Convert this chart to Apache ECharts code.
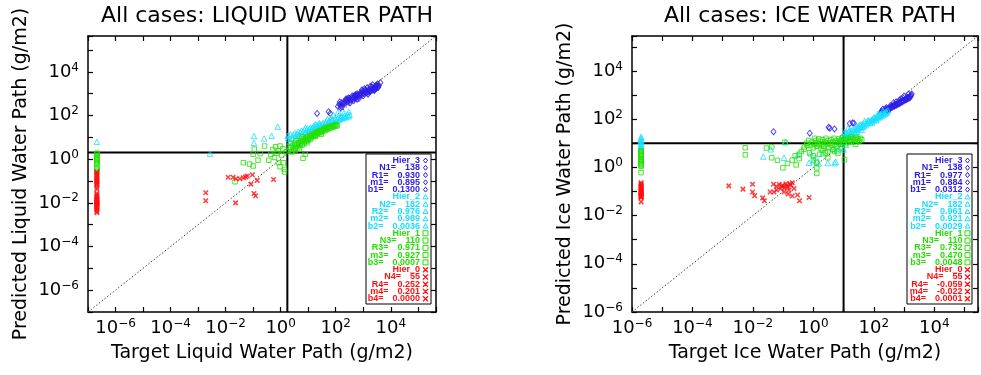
<!DOCTYPE html>
<html>
<head>
<meta charset="utf-8">
<script src="https://cdn.jsdelivr.net/npm/echarts@6/dist/echarts.min.js"></script>
<style>
  html, body { margin: 0; background: #fff; }
  #chart { width: 981px; height: 375px; }
</style>
</head>
<body>
<div id="chart"></div>
<script>
// colours / names, order Hier_3 .. Hier_0
const hierNames = ['Hier_3', 'Hier_2', 'Hier_1', 'Hier_0']
const hierColors = ['#2b1be6', '#16e0ff', '#22e000', '#ff1010']

// ---------- liquid water path ----------
const lwpRange = [1e-7, 4.4e5]
const lwpThreshX = 1.75
const lwpThreshY = 2.0
const lwpZeroX = 2.1e-7
const lwpN = [138, 182, 110, 55]
const lwpR = [0.930, 0.976, 0.971, 0.252]
const lwpM = [0.895, 0.989, 0.927, 0.201]
const lwpB = [0.1300, 0.0036, 0.0007, 0.0000]

const lwpHier3 = [
  [21, 125], [55, 150], [63, 125],
  [120, 260], [135, 330], [150, 290], [165, 380], [180, 330], [200, 420], [215, 360], [235, 470],
  [255, 410], [275, 520], [300, 460], [325, 580], [350, 500], [380, 640], [410, 560], [445, 700],
  [480, 610], [520, 780], [560, 680], [610, 860], [660, 750], [710, 950], [770, 820], [840, 1050],
  [910, 900], [990, 1150], [1070, 990], [1160, 1260], [1260, 1080], [1370, 1380], [1480, 1180],
  [1610, 1500], [1750, 1300], [1900, 1650], [2060, 1420], [2240, 1800], [2430, 1560], [2640, 1950],
  [2870, 1700], [3120, 2150], [3390, 1900], [3700, 2400], [4200, 3200], [3000, 2500], [2000, 2100],
  [1200, 1500], [800, 1100], [500, 850], [300, 650], [700, 600], [1500, 950], [2500, 1400],
  [450, 480], [230, 560], [950, 1300],
  [140, 420], [170, 250], [260, 600], [330, 380], [520, 900], [600, 560], [900, 1500], [1000, 800],
  [1400, 1900], [1700, 1200], [2200, 2600], [2600, 1500], [3300, 2800], [3500, 2000], [150, 230],
  [400, 800], [1800, 2200], [2800, 2300], [600, 1000], [1100, 1700]
]
const lwpHier2Zero = [6.3]
const lwpHier2 = [
  [2.7e-3, 1.8], [0.107, 11.5], [0.107, 5.6], [0.25, 8.9], [0.47, 11.7], [0.78, 31], [1.8, 11.7],
  [6.3, 4.9], [1.9, 8.9], [2.2, 6.3],
  [2.0, 11], [2.3, 14], [2.6, 9.5], [2.9, 13], [3.2, 16], [3.5, 11.5], [3.9, 14.5], [4.3, 18],
  [4.7, 13], [5.1, 17], [5.6, 20], [6.1, 15], [6.7, 19], [7.3, 23], [8.0, 17.5], [8.7, 22],
  [9.5, 26], [10.4, 20], [11.3, 25], [12.3, 29], [13.4, 23], [14.6, 28], [16, 33], [17.4, 26],
  [19, 31], [20.7, 37], [22.6, 29], [24.6, 35], [26.8, 41], [29.2, 33], [31.8, 39], [34.7, 46],
  [37.8, 37], [41.2, 44], [44.9, 52], [49, 41], [53, 49], [58, 58], [63, 47], [69, 55], [75, 64],
  [82, 52], [89, 61], [97, 72], [106, 58], [115, 68], [126, 80], [137, 65], [149, 76], [163, 90],
  [177, 73], [193, 85], [210, 100], [229, 82], [250, 95], [272, 112], [296, 92], [320, 108],
  [12, 16], [40, 30], [90, 48], [150, 95], [70, 80],
  [4, 9], [8, 28], [15, 20], [25, 45], [50, 70], [80, 110], [120, 140], [200, 130], [300, 150],
  [60, 40], [35, 30], [18, 40], [9, 14]
]
const lwpHier1Zero = [1.9, 1.7, 1.5, 1.3, 1.15, 1.0, 0.9, 0.8, 0.7, 0.63, 0.42, 0.37, 0.32, 0.28]
const lwpHier1 = [
  [0.022, 0.093], [0.044, 0.69], [0.074, 0.6], [0.10, 0.49], [0.11, 2.9], [0.10, 1.7], [0.15, 0.9],
  [0.18, 1.8], [0.26, 4.0], [0.37, 0.89], [0.44, 1.66], [0.52, 2.8], [0.6, 1.2], [0.65, 3.7],
  [0.83, 0.69], [0.95, 4.0], [1.1, 1.55], [0.95, 0.45], [1.35, 0.34], [1.38, 0.26], [1.26, 0.69],
  [1.58, 2.2], [2.6, 2.2], [3.4, 3.2], [4.5, 5.4], [6.5, 1.1], [7.8, 1.7], [0.8, 2.4], [1.2, 3.0],
  [0.7, 1.9],
  [2.0, 2.6], [2.2, 3.4], [2.5, 2.2], [2.7, 4.2], [3.0, 3.0], [3.2, 5.0], [3.4, 2.5], [3.7, 3.9],
  [4.0, 4.8], [4.2, 3.3], [4.6, 6.0], [5.0, 4.2], [5.3, 5.3], [5.6, 7.2], [6.0, 4.6], [6.3, 6.5],
  [6.8, 8.4], [7.2, 5.8], [7.6, 7.5], [8.0, 9.5], [8.5, 6.6], [9.0, 8.2], [9.6, 10.5], [10, 7.4],
  [11, 9.2], [11.5, 12], [12, 8.3], [13, 10.5], [14, 13.5], [15, 11], [16, 14], [17, 12], [18, 16],
  [19, 13], [20, 17.5], [22, 14.5], [23, 19], [25, 16], [27, 20], [29, 17], [31, 22], [33, 19],
  [36, 24], [38, 20], [41, 26], [44, 22], [47, 28], [50, 24], [55, 30], [60, 26], [65, 32], [70, 28],
  [76, 34], [82, 30], [90, 36], [98, 32], [105, 38], [112, 34], [4.8, 2.9], [9.0, 5.6], [3.6, 7.0],
  [2.4, 5.2], [6.0, 10.5], [18, 11], [30, 14]
]
const lwpHier0Zero = [
  0.26, 0.23, 0.2, 0.18, 0.16, 0.14, 0.125, 0.11, 0.1, 0.09, 0.08, 0.072, 0.065, 0.05, 0.042,
  0.027, 0.024, 0.021, 0.019, 0.017, 0.015, 0.014, 0.013, 0.012, 0.011, 0.0105, 0.01, 0.0095,
  0.009, 0.0085, 0.008, 0.0075, 0.007, 0.0065, 0.006, 0.0053, 0.0047, 0.004, 0.0035
]
const lwpHier0 = [
  [1.9e-3, 0.029], [1.9e-3, 0.0125], [0.0123, 0.15], [0.0186, 0.15], [0.023, 0.010], [0.024, 0.128],
  [0.033, 0.126], [0.044, 0.14], [0.053, 0.155], [0.062, 0.17], [0.094, 0.195], [0.083, 0.072],
  [0.14, 0.107], [0.107, 0.027], [0.123, 0.021], [0.55, 0.117]
]

// ---------- ice water path ----------
const iwpRange = [1e-6, 2.8e5]
const iwpThreshX = 10
const iwpThreshY = 10
const iwpZeroX = 2e-6
const iwpN = [138, 182, 110, 55]
const iwpR = [0.977, 0.961, 0.732, -0.059]
const iwpM = [0.884, 0.921, 0.470, -0.022]
const iwpB = [0.0312, 0.0029, 0.0048, 0.0001]

const iwpHier3 = [
  [0.048, 30], [0.76, 26], [3.2, 46], [5.0, 39], [3.5, 42], [16, 66], [20, 70], [22, 68], [174, 204],
  [170, 180], [185, 205], [200, 190], [215, 225], [230, 210], [250, 245], [270, 230], [290, 270],
  [310, 255], [335, 300], [360, 280], [385, 330], [415, 310], [445, 365], [480, 345], [515, 400],
  [555, 380], [595, 440], [640, 420], [690, 485], [740, 460], [800, 535], [860, 505], [920, 585],
  [990, 560], [1070, 645], [1150, 615], [1240, 710], [1330, 680], [1430, 780], [1540, 750],
  [1650, 860], [1600, 900], [1100, 700], [700, 450], [400, 350], [250, 260], [500, 370], [900, 620],
  [1300, 800],
  [200, 260], [300, 220], [450, 480], [600, 400], [1000, 900], [1200, 700], [1400, 1100], [700, 620],
  [350, 360], [1800, 1100], [260, 300], [550, 520], [800, 700], [1700, 1000]
]
const iwpHier2Zero = [18.6, 16, 14, 12.5, 11, 9.5, 8.3, 7.2, 6.2, 5.2]
const iwpHier2 = [
  [0.022, 2.8], [0.107, 2.5], [0.12, 11], [0.039, 5.6], [0.72, 1.55], [1.0, 1.8], [1.5, 1.45],
  [2.0, 3.8], [0.81, 3.8], [5.0, 1.5], [5.5, 1.7], [0.3, 3.3], [3, 1.5], [1.2, 2.6], [4.4, 6],
  [6, 5], [8, 7], [12, 8.5], [10, 5.5], [7, 11],
  [8, 15], [9, 20], [10, 17], [11, 24], [12, 19], [13, 27], [14, 22], [15, 31], [16, 25], [18, 34],
  [19, 28], [21, 38], [22, 31], [24, 42], [26, 35], [28, 47], [30, 39], [32, 52], [35, 43], [38, 57],
  [41, 48], [44, 63], [48, 54], [52, 69], [56, 60], [60, 76], [65, 67], [70, 84], [76, 74], [82, 93],
  [88, 82], [95, 103], [102, 91], [110, 114], [118, 100], [127, 125], [136, 111], [146, 138],
  [157, 123], [168, 152], [180, 136], [193, 168], [207, 150], [222, 186], [238, 166], [255, 205],
  [272, 185], [290, 230], [20, 24], [30, 45], [45, 50], [65, 90], [100, 120], [150, 160], [12, 14],
  [18, 22], [25, 30], [40, 36], [130, 140], [200, 220], [14, 42],
  [16, 36], [28, 30], [50, 85], [85, 70], [140, 170], [120, 90], [35, 60], [11, 30]
]
const iwpHier1Zero = [4.9, 4.5, 4.0, 3.6, 3.2, 2.9, 2.6, 2.3, 2.1, 1.9, 1.7, 1.5, 1.35, 1.2, 1.1, 0.6]
const iwpHier1 = [
  [5.6e-3, 6.5], [5.6e-3, 3.3], [0.028, 6.3], [0.042, 7.1], [0.042, 2.5], [0.065, 1.95], [0.098, 0.95],
  [0.115, 11], [0.14, 1.45], [0.27, 1.26], [0.34, 2.3], [0.34, 3.5], [0.49, 5.6], [0.63, 8.3],
  [0.98, 3.0], [1.3, 0.95], [1.3, 0.56], [1.3, 1.6], [2.2, 7.6], [0.2, 2.0], [0.4, 4.5], [0.75, 4.0],
  [0.25, 3.0], [1.0, 2.0], [1.6, 3.5], [2.5, 4.0], [3.0, 2.5], [10.7, 2.1], [6.5, 3.8], [5, 4.5],
  [0.8, 8], [0.9, 11], [1.0, 6.5], [1.1, 9], [1.2, 13], [1.3, 7.5], [1.4, 10], [1.5, 15], [1.6, 8.5],
  [1.7, 12], [1.8, 6], [1.9, 9.5], [2.0, 14], [2.2, 7.5], [2.4, 11], [2.6, 16], [2.8, 9], [3.0, 12.5],
  [3.2, 6.5], [3.5, 10], [3.8, 14], [4.1, 8], [4.4, 11.5], [4.8, 16], [5.2, 9], [5.6, 13], [6.0, 7.2],
  [6.5, 10.5], [7.0, 15], [7.5, 12], [8.0, 9], [8.6, 13.5], [9.2, 17], [10, 11], [11, 14], [12, 9.5],
  [13, 12.5], [14, 16], [15, 11], [16, 13.5], [17, 18], [18, 12], [20, 15], [22, 11.5], [24, 14],
  [26, 17], [28, 13], [30, 15.5], [33, 12], [36, 16], [40, 14], [2.0, 5], [3.0, 4.5], [0.6, 10],
  [0.7, 13], [1.1, 16], [4.5, 5.5], [9, 6], [25, 9], [0.5, 7]
]
const iwpHier0Zero = [
  0.23, 0.21, 0.19, 0.175, 0.16, 0.15, 0.14, 0.13, 0.12, 0.113, 0.106, 0.1, 0.094, 0.088, 0.083,
  0.078, 0.074, 0.07, 0.066, 0.063, 0.06, 0.058, 0.056, 0.037
]
const iwpHier0 = [
  [1.6e-3, 0.17], [4.7e-3, 0.125], [9.7e-3, 0.2], [9.7e-3, 0.095], [0.0114, 0.066], [0.021, 0.054],
  [0.024, 0.041], [0.037, 0.095], [0.048, 0.2], [0.05, 0.095], [0.061, 0.114], [0.074, 0.2],
  [0.083, 0.133], [0.095, 0.18], [0.107, 0.095], [0.123, 0.21], [0.138, 0.155], [0.157, 0.114],
  [0.178, 0.18], [0.2, 0.23], [0.23, 0.133], [0.145, 0.078], [0.2, 0.065], [0.3, 0.071],
  [0.35, 0.041], [0.72, 0.056], [0.09, 0.16], [0.11, 0.14], [0.17, 0.21], [0.06, 0.16], [0.13, 0.18]
]

const FONT = 'DejaVu Sans'
const symbols = ['diamond', 'triangle', 'rect', 'path://M0,0L10,10M10,0L0,10']
const symbolSizes = [[5, 6], 5.5, 4.5, 4.5]

const grids = [
  {left: 88, top: 36, width: 348, height: 276},
  {left: 632, top: 36, width: 347, height: 276}
]

// label only the even decades (10^-6, 10^-4 ...), nothing at the odd axis ends
function tickLabel(v) {
  const lg = Math.log10(v)
  const e = Math.round(lg)
  if (Math.abs(lg - e) > 0.01 || e % 2 !== 0) return ''
  return '{b|10}{s|' + (e < 0 ? '\u2212' + (-e) : e) + '}'
}
const tickRich = {
  b: {fontFamily: FONT, fontSize: 18, color: '#000', lineHeight: 21},
  s: {fontFamily: FONT, fontSize: 12, color: '#000', lineHeight: 12, verticalAlign: 'top'}
}

function makeAxes(range, name, isX, gi) {
  const base = {
    type: 'log', logBase: 10, min: range[0], max: range[1], interval: 1, gridIndex: gi,
    axisLine: {show: true, onZero: false, lineStyle: {color: '#000', width: 1.5}},
    axisTick: {show: true, inside: true, length: 5, lineStyle: {color: '#000', width: 1.2}},
    splitLine: {show: false}, minorTick: {show: false}
  }
  const main = Object.assign({}, base, {
    position: isX ? 'bottom' : 'left',
    name: name, nameLocation: 'middle', nameGap: isX ? 32 : 57,
    nameTextStyle: {fontFamily: FONT, fontSize: 19, color: '#000'},
    axisLabel: {show: true, margin: isX ? 6 : 9, formatter: tickLabel, rich: tickRich,
      showMinLabel: true, showMaxLabel: true}
  })
  const mirror = Object.assign({}, base, {
    position: isX ? 'top' : 'right', axisLabel: {show: false}
  })
  return [main, mirror]
}

function panelSeries(gi, range, zeroX, thrX, thrY, sets, zeros) {
  const ax = {xAxisIndex: gi * 2, yAxisIndex: gi * 2}
  const out = []
  // 1:1 line
  out.push(Object.assign({type: 'line', data: [[range[0], range[0]], [range[1], range[1]]],
    symbol: 'none', silent: true, z: 1,
    lineStyle: {color: '#444', width: 1, type: [1.5, 2]}}, ax))
  // threshold lines
  out.push(Object.assign({type: 'line', data: [[thrX, range[0]], [thrX, range[1]]],
    symbol: 'none', silent: true, z: 2, lineStyle: {color: '#000', width: 2}}, ax))
  out.push(Object.assign({type: 'line', data: [[range[0], thrY], [range[1], thrY]],
    symbol: 'none', silent: true, z: 2, lineStyle: {color: '#000', width: 2}}, ax))
  for (let k = 0; k < 4; k++) {
    const data = zeros[k].map(y => [zeroX, y]).concat(sets[k])
    out.push(Object.assign({
      type: 'scatter', name: hierNames[k], data: data, symbol: symbols[k], symbolSize: symbolSizes[k],
      silent: true, z: 3 + k,
      itemStyle: {color: 'rgba(0,0,0,0)', borderColor: hierColors[k], borderWidth: k === 3 ? 1.5 : 1}
    }, ax))
  }
  return out
}

function legendSymbol(k, cx, cy, color) {
  const st = {fill: 'none', stroke: color, lineWidth: 1}
  if (k === 0) return {type: 'polygon', z: 12, shape: {points: [[cx, cy - 2.5], [cx + 2, cy], [cx, cy + 2.5], [cx - 2, cy]]}, style: st}
  if (k === 1) return {type: 'polygon', z: 12, shape: {points: [[cx, cy - 2.5], [cx + 2.5, cy + 2], [cx - 2.5, cy + 2]]}, style: st}
  if (k === 2) return {type: 'rect', z: 12, shape: {x: cx - 2.5, y: cy - 2.5, width: 5, height: 5}, style: st}
  return {type: 'polyline', z: 12, shape: {points: [[cx - 2.5, cy - 2.5], [cx + 2.5, cy + 2.5], [cx, cy], [cx + 2.5, cy - 2.5], [cx - 2.5, cy + 2.5]]}, style: {fill: 'none', stroke: color, lineWidth: 1.3}}
}

function legendGraphics(box, textRight, symX, N, R, M, B) {
  const els = [{type: 'rect', z: 10, shape: {x: box[0], y: box[1], width: box[2], height: box[3]},
    style: {fill: '#fff', stroke: '#000', lineWidth: 1}}]
  const rowY0 = 160.5
  const rowStep = 7.28
  const fs = 9
  let row = 0
  for (let k = 0; k < 4; k++) {
    const i = k + 1
    const lines = [
      ['', hierNames[k]],
      ['N' + i + '=', String(N[k])],
      ['R' + i + '=', R[k].toFixed(3)],
      ['m' + i + '=', M[k].toFixed(3)],
      ['b' + i + '=', B[k].toFixed(4)]
    ]
    lines.forEach(function (ln) {
      const y = rowY0 + row * rowStep
      els.push({type: 'text', z: 11, x: textRight, y: y, style: {
        text: ln[0] ? '{k|' + ln[0] + '}{v|' + ln[1] + '}' : '{v|' + ln[1] + '}',
        align: 'right', verticalAlign: 'middle', fill: hierColors[k],
        fontFamily: 'Liberation Sans', fontWeight: 'bold', fontSize: fs,
        rich: {
          k: {fontFamily: 'Liberation Sans', fontWeight: 'bold', fontSize: fs, fill: hierColors[k], padding: [0, 9, 0, 0]},
          v: {fontFamily: 'Liberation Sans', fontWeight: 'bold', fontSize: fs, fill: hierColors[k]}
        }
      }})
      els.push(legendSymbol(k, symX, y, hierColors[k]))
      row++
    })
  }
  return els
}

const chart = echarts.init(document.getElementById('chart'), null, {renderer: 'canvas'})
const lwpAxX = makeAxes(lwpRange, 'Target Liquid Water Path (g/m2)', true, 0)
const lwpAxY = makeAxes(lwpRange, 'Predicted Liquid Water Path (g/m2)', false, 0)
const iwpAxX = makeAxes(iwpRange, 'Target Ice Water Path (g/m2)', true, 1)
const iwpAxY = makeAxes(iwpRange, 'Predicted Ice Water Path (g/m2)', false, 1)

const option = {
  animation: false,
  backgroundColor: '#fff',
  title: [
    {text: 'All cases: LIQUID WATER PATH', left: 262, top: 0, textAlign: 'center',
      textStyle: {fontFamily: FONT, fontSize: 22, fontWeight: 'normal', color: '#000'}},
    {text: 'All cases: ICE WATER PATH', left: 805, top: 0, textAlign: 'center',
      textStyle: {fontFamily: FONT, fontSize: 22, fontWeight: 'normal', color: '#000'}}
  ],
  grid: grids,
  xAxis: lwpAxX.concat(iwpAxX),
  yAxis: lwpAxY.concat(iwpAxY),
  series: panelSeries(0, lwpRange, lwpZeroX, lwpThreshX, lwpThreshY,
    [lwpHier3, lwpHier2, lwpHier1, lwpHier0], [[], lwpHier2Zero, lwpHier1Zero, lwpHier0Zero])
    .concat(panelSeries(1, iwpRange, iwpZeroX, iwpThreshX, iwpThreshY,
      [iwpHier3, iwpHier2, iwpHier1, iwpHier0], [[], iwpHier2Zero, iwpHier1Zero, iwpHier0Zero])),
  graphic: legendGraphics([366, 154, 65, 150], 420, 425.5, lwpN, lwpR, lwpM, lwpB)
    .concat(legendGraphics([907, 154, 65, 150], 962.5, 967.5, iwpN, iwpR, iwpM, iwpB))
}
chart.setOption(option)
</script>
</body>
</html>
